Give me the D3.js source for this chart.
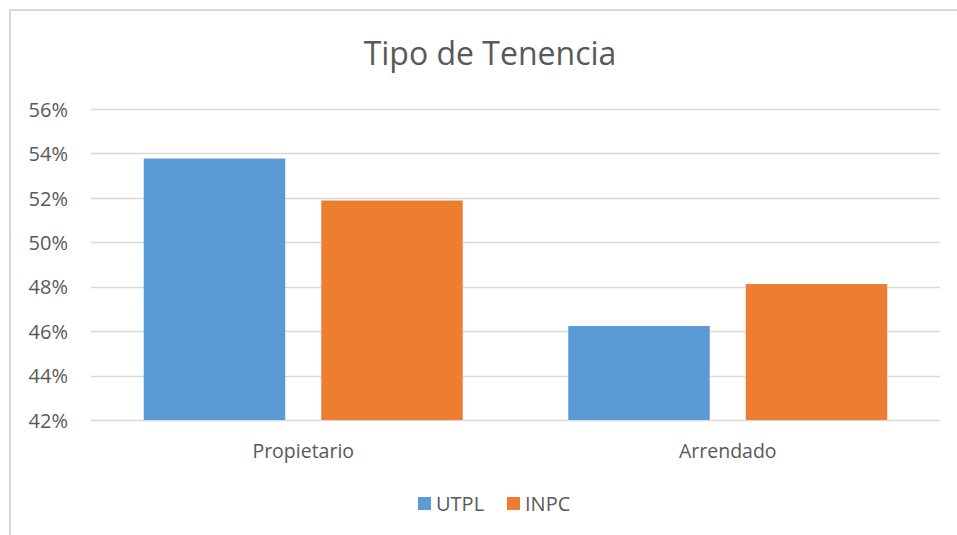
<!DOCTYPE html>
<html>
<head>
<meta charset="utf-8">
<script src="https://cdn.jsdelivr.net/npm/d3@7"></script>
<style>
  body { margin: 0; background: #fff; }
  text { font-family: "Open Sans", "Noto Sans", sans-serif; fill: #595959; }
</style>
</head>
<body>
<svg id="chart"></svg>
<script>
// data
const categories = ['Propietario', 'Arrendado'];
const seriesNames = ['UTPL', 'INPC'];
const utplValues = [53.77, 46.23];
const inpcValues = [51.88, 48.12];
const yTicks = [42, 44, 46, 48, 50, 52, 54, 56];
const colors = ['#5b9bd5', '#ed7d31'];

const config = {
  width: 957,
  height: 535,
  margin: { top: 109, right: 17, bottom: 115, left: 91 },
};

const innerW = config.width - config.margin.left - config.margin.right;
const innerH = config.height - config.margin.top - config.margin.bottom;

const svg = d3.select('#chart')
  .attr('width', config.width)
  .attr('height', config.height);

// chart frame (only top + left edges show in the crop)
svg.append('path')
  .attr('d', `M10,${config.height} L10,10 L${config.width},10`)
  .attr('fill', 'none')
  .attr('stroke', '#d9d9d9')
  .attr('stroke-width', 2);

const chart = svg.append('g')
  .attr('transform', `translate(${config.margin.left},${config.margin.top})`);

const xScale = d3.scaleBand()
  .domain(categories)
  .range([0, innerW]);

const outerGap = 52.75;
const xInner = d3.scaleBand()
  .domain(seriesNames)
  .range([outerGap, xScale.bandwidth() - outerGap])
  .paddingInner(0.203);

const yScale = d3.scaleLinear()
  .domain([42, 56])
  .range([innerH, 0]);

// gridlines
chart.append('g')
  .selectAll('line')
  .data(yTicks)
  .join('line')
  .attr('x1', 0)
  .attr('x2', innerW)
  .attr('y1', (d) => Math.round(yScale(d)) + 0.5)
  .attr('y2', (d) => Math.round(yScale(d)) + 0.5)
  .attr('stroke', '#d9d9d9')
  .attr('stroke-width', 1.5);

// y axis labels
const yAxis = d3.axisLeft(yScale)
  .tickValues(yTicks)
  .tickSize(0)
  .tickPadding(23)
  .tickFormat((d) => d + '%');

chart.append('g')
  .call(yAxis)
  .call((g) => g.select('.domain').remove())
  .selectAll('text')
  .attr('font-size', '20px')
  .attr('dy', '0.36em')
  .style('font-family', '"Open Sans", sans-serif')
  .attr('fill', '#595959');

// bars
const rows = categories.map((c, i) => ({
  category: c,
  values: [
    { series: 'UTPL', value: utplValues[i] },
    { series: 'INPC', value: inpcValues[i] },
  ],
}));

const groups = chart.selectAll('.bar-group')
  .data(rows)
  .join('g')
  .attr('class', 'bar-group')
  .attr('transform', (d) => `translate(${xScale(d.category)},0)`);

groups.selectAll('rect')
  .data((d) => d.values)
  .join('rect')
  .attr('x', (d) => xInner(d.series))
  .attr('y', (d) => yScale(d.value))
  .attr('width', xInner.bandwidth())
  .attr('height', (d) => innerH - yScale(d.value))
  .attr('fill', (d, i) => colors[i]);

// x axis labels
const xAxis = d3.axisBottom(xScale).tickSize(0).tickPadding(24);
chart.append('g')
  .attr('transform', `translate(0,${innerH})`)
  .call(xAxis)
  .call((g) => g.select('.domain').remove())
  .selectAll('text')
  .attr('font-size', '19.5px')
  .style('font-family', '"Open Sans", sans-serif')
  .attr('fill', '#595959');

// title
svg.append('text')
  .attr('x', 490)
  .attr('y', 65)
  .attr('text-anchor', 'middle')
  .attr('font-size', '32px')
  .text('Tipo de Tenencia');

// legend
const legendX = [418, 507];
const legend = svg.append('g')
  .selectAll('g')
  .data(seriesNames)
  .join('g')
  .attr('transform', (d, i) => `translate(${legendX[i]},497)`);

legend.append('rect')
  .attr('width', 13)
  .attr('height', 13)
  .attr('fill', (d, i) => colors[i]);

legend.append('text')
  .attr('x', 18)
  .attr('y', 13.5)
  .attr('font-size', '20px')
  .text((d) => d);
</script>
</body>
</html>
